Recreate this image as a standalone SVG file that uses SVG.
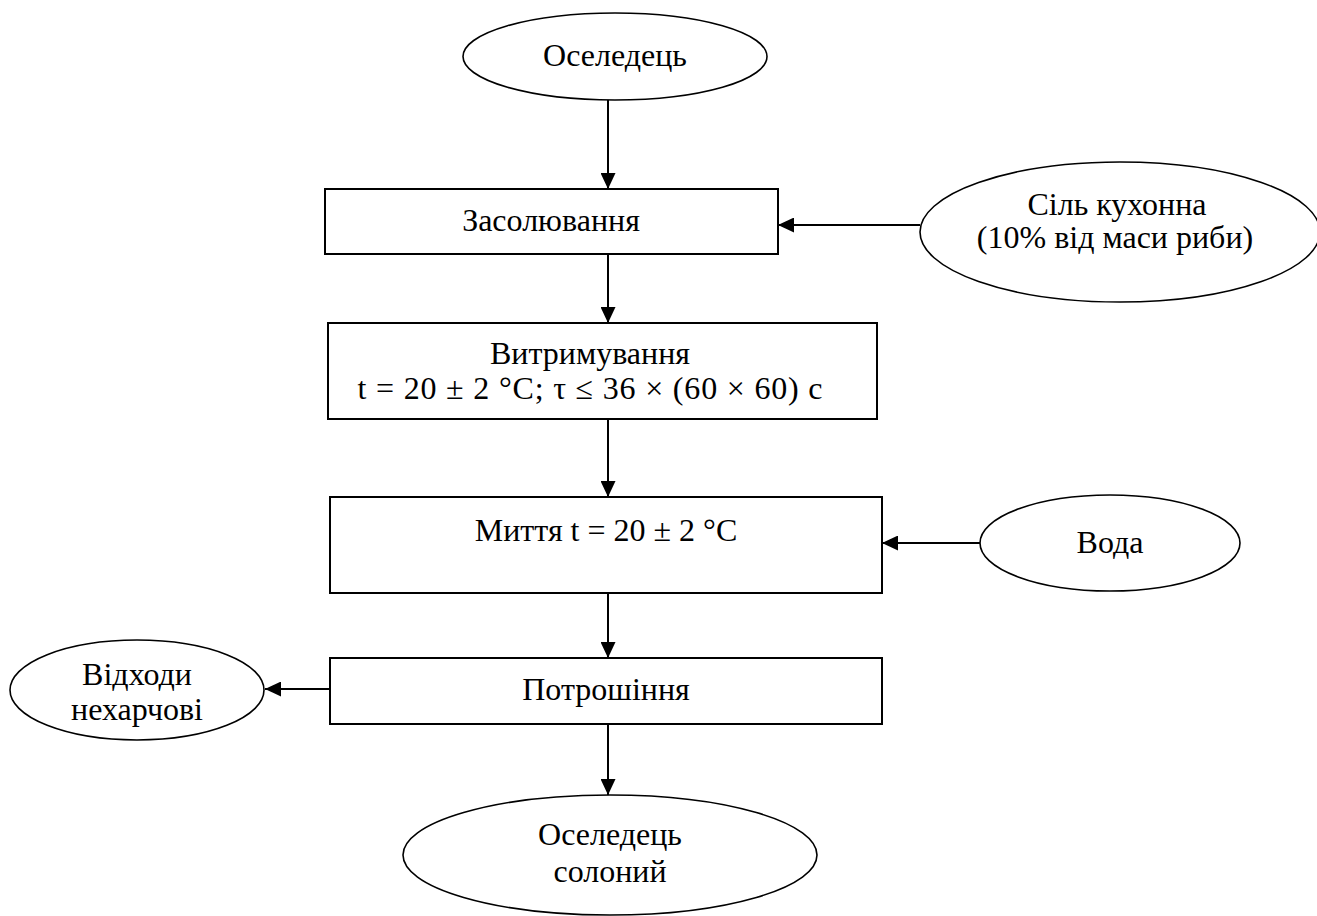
<svg xmlns="http://www.w3.org/2000/svg" width="1317" height="916" viewBox="0 0 1317 916">
  <defs>
    <marker id="arrow" markerWidth="16" markerHeight="15" refX="16" refY="7.5" orient="auto" markerUnits="userSpaceOnUse">
      <path d="M0,0 L16,7.5 L0,15 Z" fill="#000"/>
    </marker>
    <style>
      .box { fill: #fff; stroke: #000; stroke-width: 2; }
      .oval { fill: #fff; stroke: #000; stroke-width: 1.6; }
      .lbl { font-family: "Liberation Serif", "Times New Roman", serif; font-size: 32px; fill: #000; text-anchor: middle; }
      .edge { stroke: #000; stroke-width: 2; fill: none; marker-end: url(#arrow); }
    </style>
  </defs>
  <rect width="1317" height="916" fill="#fff"/>

  <g id="connectors">
    <line class="edge" x1="608" y1="100" x2="608" y2="189"/>
    <line class="edge" x1="920" y1="225" x2="778" y2="225"/>
    <line class="edge" x1="608" y1="254" x2="608" y2="323"/>
    <line class="edge" x1="608" y1="419" x2="608" y2="497"/>
    <line class="edge" x1="980" y1="543" x2="882" y2="543"/>
    <line class="edge" x1="608" y1="593" x2="608" y2="658"/>
    <line class="edge" x1="329" y1="689" x2="265" y2="689"/>
    <line class="edge" x1="608" y1="724" x2="608" y2="795"/>
  </g>

  <g id="herring">
    <ellipse class="oval" cx="615" cy="56.5" rx="152" ry="43.5"/>
    <text class="lbl" x="615" y="66">Оселедець</text>
  </g>

  <g id="salting">
    <rect class="box" x="325" y="189" width="453" height="65"/>
    <text class="lbl" x="551" y="231">Засолювання</text>
  </g>

  <g id="salt">
    <ellipse class="oval" cx="1120" cy="232" rx="200" ry="70"/>
    <text class="lbl" x="1117" y="215">Сіль кухонна</text>
    <text class="lbl" x="1115" y="248">(10% від маси риби)</text>
  </g>

  <g id="curing">
    <rect class="box" x="328" y="323" width="549" height="96"/>
    <text class="lbl" x="590" y="364">Витримування</text>
    <text class="lbl" x="590" y="399" textLength="465" lengthAdjust="spacing">t = 20 ± 2 °C; τ ≤ 36 × (60 × 60) с</text>
  </g>

  <g id="washing">
    <rect class="box" x="330" y="497" width="552" height="96"/>
    <text class="lbl" x="606" y="541">Миття t = 20 ± 2 °C</text>
  </g>

  <g id="water">
    <ellipse class="oval" cx="1110" cy="543" rx="130" ry="48"/>
    <text class="lbl" x="1110" y="553">Вода</text>
  </g>

  <g id="gutting">
    <rect class="box" x="330" y="658" width="552" height="66"/>
    <text class="lbl" x="606" y="700">Потрошіння</text>
  </g>

  <g id="waste">
    <ellipse class="oval" cx="137" cy="690" rx="127" ry="50"/>
    <text class="lbl" x="137" y="685">Відходи</text>
    <text class="lbl" x="137" y="720">нехарчові</text>
  </g>

  <g id="salted-herring">
    <ellipse class="oval" cx="610" cy="855" rx="207" ry="60"/>
    <text class="lbl" x="610" y="845">Оселедець</text>
    <text class="lbl" x="610" y="882">солоний</text>
  </g>
</svg>
